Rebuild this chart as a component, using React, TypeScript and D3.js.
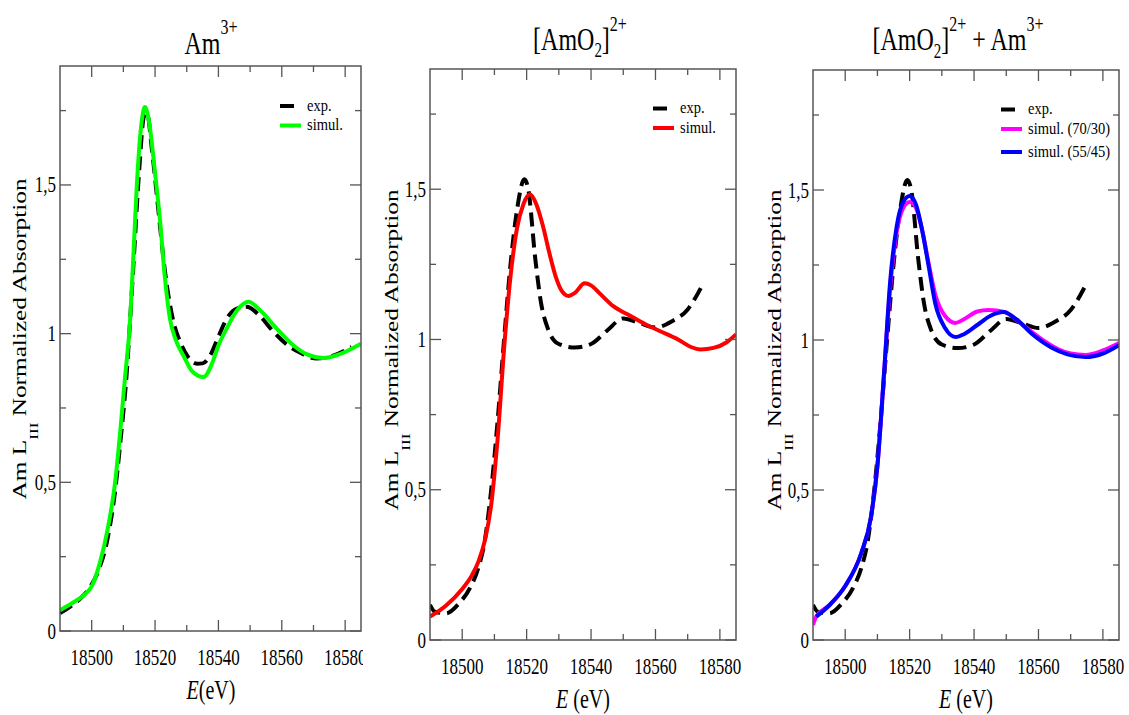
import React from "react";
import * as d3 from "d3";

// ---------- axes ----------
const E_MIN = 18490;
const E_MAX = 18585;
const Y_MAX = 1.9;
const X_TICKS = [18500, 18520, 18540, 18560, 18580];
const X_MINOR = [18510, 18530, 18550, 18570];
const Y_TICKS = [0, 0.5, 1, 1.5];
const Y_TICK_LABELS = ["0", "0,5", "1", "1,5"];
const Y_MINOR = [0.25, 0.75, 1.25, 1.75];

// ---------- Am3+ ----------
const AM3_EXP_E = [18490, 18493, 18496, 18499, 18502, 18505, 18507.5, 18509, 18511, 18513, 18515, 18516.5, 18517.5, 18519, 18521, 18523, 18525.8, 18528, 18530.5, 18533.2, 18535, 18537.4, 18540, 18542.6, 18546, 18549, 18553, 18557.4, 18562, 18566, 18571, 18576, 18582];
const AM3_EXP = [0.06, 0.08, 0.105, 0.14, 0.2, 0.31, 0.48, 0.63, 0.86, 1.2, 1.55, 1.73, 1.74, 1.62, 1.42, 1.22, 1.04, 0.97, 0.92, 0.899, 0.9, 0.927, 0.99, 1.05, 1.085, 1.09, 1.06, 1.006, 0.96, 0.935, 0.916, 0.925, 0.955];
const AM3_SIM_E = [18490, 18494, 18498, 18500, 18502.6, 18505, 18507.4, 18509, 18510.5, 18512.1, 18513.2, 18514.2, 18515.8, 18516.8, 18518, 18520, 18521.6, 18523, 18524.7, 18526.5, 18528.9, 18532, 18535.3, 18538, 18540, 18542.6, 18546, 18549.5, 18553, 18558.4, 18563.7, 18568, 18573.1, 18578, 18585];
const AM3_SIM = [0.07, 0.095, 0.125, 0.15, 0.23, 0.34, 0.5, 0.67, 0.85, 1.04, 1.27, 1.49, 1.715, 1.762, 1.72, 1.54, 1.377, 1.2, 1.05, 0.98, 0.927, 0.87, 0.854, 0.9, 0.96, 1.017, 1.08, 1.107, 1.08, 1.017, 0.96, 0.93, 0.918, 0.93, 0.966];

// ---------- [AmO2]2+ ----------
const AMO2_EXP_E = [18490, 18491.5, 18495, 18499, 18502.5, 18505, 18507, 18509, 18511, 18513, 18515, 18517, 18519.3, 18520.5, 18522.7, 18524.5, 18526.7, 18530, 18535, 18540, 18545, 18550, 18555, 18560, 18565, 18570, 18575];
const AMO2_EXP = [0.117, 0.094, 0.089, 0.122, 0.175, 0.24, 0.33, 0.5, 0.73, 1.0, 1.25, 1.43, 1.533, 1.5, 1.267, 1.12, 1.033, 0.985, 0.973, 0.985, 1.03, 1.07, 1.055, 1.04, 1.06, 1.1, 1.19];
const AMO2_SIM_E = [18490, 18495, 18500, 18503, 18505, 18507, 18509, 18510, 18511, 18513, 18515, 18517, 18519, 18521, 18523, 18525, 18527, 18529, 18531, 18533, 18535, 18538, 18540, 18543, 18547, 18552, 18557, 18562, 18567, 18571, 18574, 18578, 18582, 18585];
const AMO2_SIM = [0.078, 0.115, 0.17, 0.215, 0.26, 0.33, 0.45, 0.55, 0.67, 0.97, 1.21, 1.37, 1.45, 1.483, 1.45, 1.38, 1.29, 1.21, 1.16, 1.145, 1.155, 1.187, 1.18, 1.15, 1.11, 1.08, 1.05, 1.025, 1.0, 0.975, 0.967, 0.972, 0.99, 1.017];

// ---------- mixtures ----------
const MIX70_E = [18490, 18491, 18495, 18500, 18505, 18508, 18510, 18512, 18514, 18516, 18518, 18520, 18522, 18524, 18526, 18528, 18531, 18534.2, 18537, 18541, 18544.4, 18549.7, 18554, 18560, 18566, 18570, 18574.6, 18580, 18585];
const MIX70 = [0.05, 0.078, 0.115, 0.18, 0.29, 0.41, 0.58, 0.88, 1.18, 1.36, 1.44, 1.46, 1.44, 1.36, 1.25, 1.15, 1.08, 1.057, 1.07, 1.095, 1.1, 1.093, 1.06, 1.01, 0.97, 0.955, 0.95, 0.965, 0.99];
const MIX55_E = [18491, 18495, 18500, 18505, 18508, 18510, 18512, 18514, 18516, 18518, 18520, 18522, 18524, 18526, 18528, 18531, 18534.2, 18537, 18541, 18545, 18549.1, 18553, 18558, 18564, 18569, 18574.6, 18580, 18585];
const MIX55 = [0.078, 0.115, 0.18, 0.29, 0.41, 0.58, 0.88, 1.2, 1.38, 1.46, 1.48, 1.45, 1.36, 1.24, 1.12, 1.04, 1.01, 1.02, 1.05, 1.08, 1.093, 1.07, 1.02, 0.975, 0.952, 0.943, 0.955, 0.983];

const FONT = "'Liberation Serif', 'Times New Roman', serif";
const SY = 1.33;
const FRAME = "#555";
const DASH = "14,7";

type Series = { e: number[]; v: number[]; color: string; dash?: string; label: string };

const PANELS = [
  {
    id: "p1", left: 60, right: 361, bottom: 631, top: 66,
    titleX: 211, titleY: 54, title: "am3",
    xLabel: "(eV)", xLabelX: 211, xLabelY: 699,
    yLabelX: 26, yLabelY: 339, tickClip: 363,
    legendX: 280, legendY: [106, 125.5],
    series: [
      { e: AM3_EXP_E, v: AM3_EXP, color: "#000", dash: DASH, label: "exp." },
      { e: AM3_SIM_E, v: AM3_SIM, color: "#00ff00", label: "simul." },
    ] as Series[],
  },
  {
    id: "p2", left: 430, right: 736, bottom: 640, top: 69,
    titleX: 580, titleY: 49.5, title: "amo2",
    xLabel: " (eV)", xLabelX: 583, xLabelY: 708,
    yLabelX: 398, yLabelY: 350, tickClip: 0,
    legendX: 653, legendY: [108.5, 128],
    series: [
      { e: AMO2_EXP_E, v: AMO2_EXP, color: "#000", dash: DASH, label: "exp." },
      { e: AMO2_SIM_E, v: AMO2_SIM, color: "#ff0000", label: "simul." },
    ] as Series[],
  },
  {
    id: "p3", left: 813, right: 1119, bottom: 640, top: 70,
    titleX: 958, titleY: 50, title: "mix",
    xLabel: " (eV)", xLabelX: 966, xLabelY: 708,
    yLabelX: 781, yLabelY: 350, tickClip: 0,
    legendX: 1001, legendY: [109.5, 129, 152],
    series: [
      { e: AMO2_EXP_E, v: AMO2_EXP, color: "#000", dash: DASH, label: "exp." },
      { e: MIX70_E, v: MIX70, color: "#ff00ff", label: "simul. (70/30)" },
      { e: MIX55_E, v: MIX55, color: "#0000ff", label: "simul. (55/45)" },
    ] as Series[],
  },
];

function T({ x, y, size, anchor = "start", rotate = false, sy = SY, children }: any) {
  const tr = `translate(${x},${y}) scale(1,${sy})` + (rotate ? " rotate(-90)" : "");
  return (
    <text transform={tr} fontSize={size} textAnchor={anchor} fontFamily={FONT} fill="#000">
      {children}
    </text>
  );
}

function Title({ kind, x, y }: { kind: string; x: number; y: number }) {
  const big = 24, small = 16, sub = 15;
  if (kind === "am3") {
    return (
      <T x={x} y={y} size={big} anchor="middle">
        <tspan>Am</tspan>
        <tspan dy={-15} fontSize={small}>3+</tspan>
      </T>
    );
  }
  const amo2 = [
    <tspan key="a">[AmO</tspan>,
    <tspan key="b" dy={6} fontSize={sub}>2</tspan>,
    <tspan key="c" dy={-6}>]</tspan>,
    <tspan key="d" dy={-14} fontSize={small}>2+</tspan>,
  ];
  if (kind === "amo2") {
    return <T x={x} y={y} size={big} anchor="middle">{amo2}</T>;
  }
  return (
    <T x={x} y={y} size={big} anchor="middle">
      {amo2}
      <tspan dy={14}> + Am</tspan>
      <tspan dy={-14} fontSize={small}>3+</tspan>
    </T>
  );
}

function Panel({ p }: { p: (typeof PANELS)[number] }) {
  const x = d3.scaleLinear().domain([E_MIN, E_MAX]).range([p.left, p.right]);
  const y = d3.scaleLinear().domain([0, Y_MAX]).range([p.bottom, p.top]);
  const clipId = `clip-${p.id}`;
  const tclipId = `tclip-${p.id}`;
  const MAJ = 11, MIN = 6;
  const lineFor = (s: Series) =>
    d3.line<number>()
      .x((_, i) => x(s.e[i]))
      .y((d) => y(d))
      .curve(d3.curveMonotoneX)(s.v) || "";

  return (
    <g>
      <defs>
        <clipPath id={clipId}>
          <rect x={p.left} y={p.top} width={p.right - p.left} height={p.bottom - p.top} />
        </clipPath>
        {p.tickClip ? (
          <clipPath id={tclipId}>
            <rect x={0} y={p.bottom} width={p.tickClip} height={60} />
          </clipPath>
        ) : null}
      </defs>

      {/* curves */}
      <g clipPath={`url(#${clipId})`}>
        {p.series.map((s, i) => (
          <path key={i} d={lineFor(s)} fill="none" stroke={s.color} strokeWidth={4}
            strokeDasharray={s.dash} strokeLinejoin="round" />
        ))}
      </g>

      {/* frame */}
      <rect x={p.left} y={p.top} width={p.right - p.left} height={p.bottom - p.top}
        fill="none" stroke={FRAME} strokeWidth={1.5} />

      {/* x ticks */}
      {X_TICKS.map((t) => (
        <g key={`xt${t}`} stroke={FRAME} strokeWidth={1.3}>
          <line x1={x(t)} x2={x(t)} y1={p.bottom} y2={p.bottom - MAJ} />
          <line x1={x(t)} x2={x(t)} y1={p.top} y2={p.top + MAJ} />
        </g>
      ))}
      {X_MINOR.map((t) => (
        <g key={`xm${t}`} stroke={FRAME} strokeWidth={1.3}>
          <line x1={x(t)} x2={x(t)} y1={p.bottom} y2={p.bottom - MIN} />
          <line x1={x(t)} x2={x(t)} y1={p.top} y2={p.top + MIN} />
        </g>
      ))}
      {/* y ticks */}
      {Y_TICKS.map((t) => (
        <g key={`yt${t}`} stroke={FRAME} strokeWidth={1.3}>
          <line x1={p.left} x2={p.left + MAJ} y1={y(t)} y2={y(t)} />
          <line x1={p.right} x2={p.right - MAJ} y1={y(t)} y2={y(t)} />
        </g>
      ))}
      {Y_MINOR.map((t) => (
        <g key={`ym${t}`} stroke={FRAME} strokeWidth={1.3}>
          <line x1={p.left} x2={p.left + MIN} y1={y(t)} y2={y(t)} />
          <line x1={p.right} x2={p.right - MIN} y1={y(t)} y2={y(t)} />
        </g>
      ))}

      {/* x tick labels */}
      <g clipPath={p.tickClip ? `url(#${tclipId})` : undefined}>
        {X_TICKS.map((t) => (
          <T key={`xl${t}`} x={x(t)} y={p.bottom + 33.5} size={17} anchor="middle">{String(t)}</T>
        ))}
      </g>
      {/* y tick labels */}
      {Y_TICKS.map((t, i) => (
        <T key={`yl${t}`} x={p.left - 4} y={y(t) + 7.5} size={17} anchor="end">{Y_TICK_LABELS[i]}</T>
      ))}

      {/* axis titles */}
      <T x={p.xLabelX} y={p.xLabelY} size={20} anchor="middle">
        <tspan fontStyle="italic">E</tspan>
        <tspan>{p.xLabel}</tspan>
      </T>
      <T x={p.yLabelX} y={p.yLabelY} size={19} anchor="middle" rotate>
        <tspan>Am L</tspan>
        <tspan dy={12} fontSize={13}>III</tspan>
        <tspan dy={-12}> Normalized Absorption</tspan>
      </T>

      {/* title */}
      <Title kind={p.title} x={p.titleX} y={p.titleY} />

      {/* legend */}
      {p.series.map((s, i) => (
        <g key={`lg${i}`}>
          <line x1={p.legendX} x2={p.legendX + 21} y1={p.legendY[i]} y2={p.legendY[i]}
            stroke={s.color} strokeWidth={4} strokeDasharray={s.dash} />
          <T x={p.legendX + 27} y={p.legendY[i] + 4.5} size={14.5} sy={1.2}>{s.label}</T>
        </g>
      ))}
    </g>
  );
}

export default function App() {
  const W = 1129, H = 715;
  return (
    <svg width={W} height={H} style={{ position: "absolute", left: 0, top: 0, background: "#fff" }}>
      <rect width={W} height={H} fill="#fff" />
      {PANELS.map((p) => (
        <Panel key={p.id} p={p} />
      ))}
    </svg>
  );
}
